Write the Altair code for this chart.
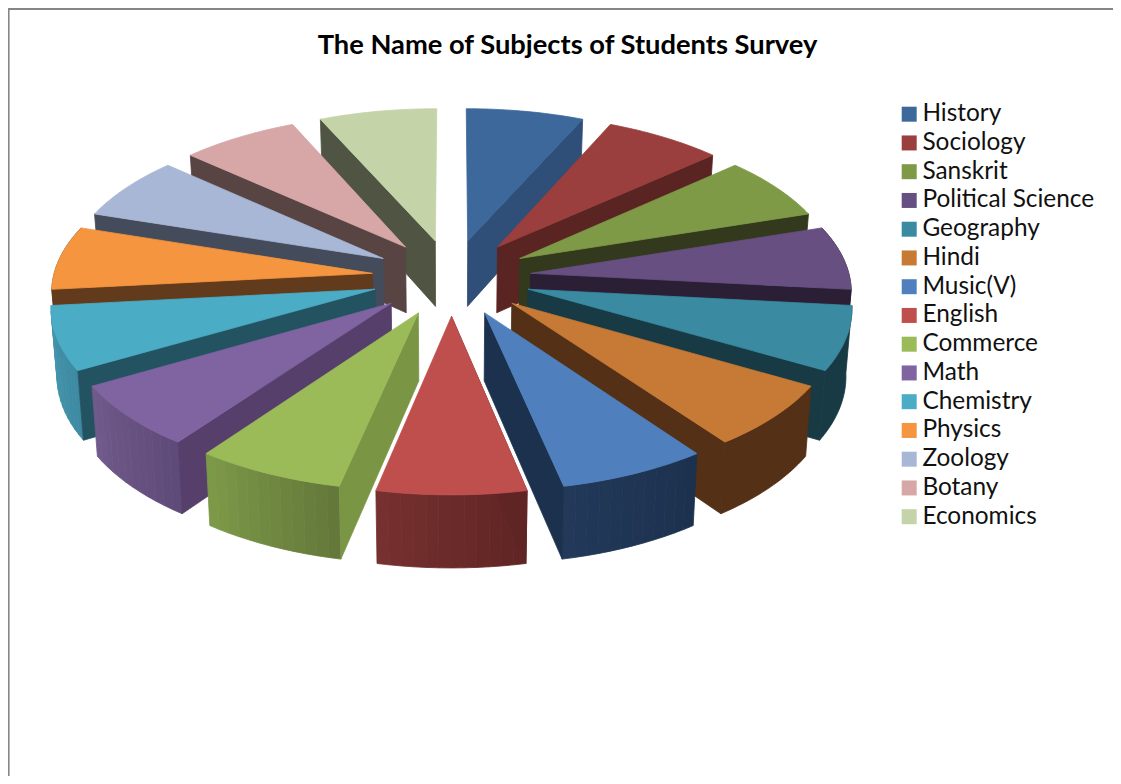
import math
import pandas as pd
import altair as alt

chart_title = ["The Name of Subjects of Students Survey"]
subjects = ["History", "Sociology", "Sanskrit", "Political Science", "Geography", "Hindi", "Music(V)",
            "English", "Commerce", "Math", "Chemistry", "Physics", "Zoology", "Botany", "Economics"]
values = [1, 1, 1, 1, 1, 1, 1, 1, 1, 1, 1, 1, 1, 1, 1]
top_colors = ["#3c689b", "#9a3f3d", "#7e9a47", "#674f82", "#3a8aa2", "#c77a35", "#4f80bd", "#bf4f4c",
              "#9bbb59", "#8063a1", "#4bacc6", "#f59540", "#a8b7d6", "#d6a7a6", "#c4d3a8"]
wall_colors = ["#2f4f78", "#5a2423", "#33391d", "#2a1f35", "#173a44", "#533016", "#1c314d", "#5f2524",
               "#7a9645", "#573f6c", "#235261", "#623a1c", "#444b5a", "#574443", "#4f5542"]
rim_start = ["#2f4f78", "#5a2423", "#33391d", "#2a1f35", "#173a44", "#533016", "#1c314d", "#5f2524",
             "#63773a", "#5e4a78", "#3d8aa1", "#623a1c", "#444b5a", "#574443", "#4f5542"]
rim_end = ["#2f4f78", "#5a2423", "#33391d", "#2a1f35", "#173a44", "#533016", "#22395a", "#76302f",
           "#7d9a48", "#715a8c", "#4496ae", "#623a1c", "#444b5a", "#574443", "#4f5542"]

W, H = 1105, 768
CX, CY, S, A, K, EXPL, SHRINK = 451.5, 277.3, 319.0, 152.3, 0.1, 0.25, 0.985


def project(theta, r, mid):
    u = EXPL * math.sin(mid) + r * math.sin(theta)
    v = -(EXPL * math.cos(mid) + r * math.cos(theta))
    s = 1 / (1 - K * v)
    x = CX + S * u * s
    y = CY + A * v * s
    return (x, y), (CX + (x - CX) * SHRINK, y + 66.7 + 5.1 * v)


def mix(c1, c2, t):
    a = [int(c1[i:i + 2], 16) for i in (1, 3, 5)]
    b = [int(c2[i:i + 2], 16) for i in (1, 3, 5)]
    return "#" + "".join(f"{round(p + (q - p) * t):02x}" for p, q in zip(a, b))


rows = []
pid = [0]


def add_poly(points, color):
    pid[0] += 1
    for i, (x, y) in enumerate(points + points[:1]):
        rows.append({"pid": f"p{pid[0]:04d}", "seq": i, "x": x, "y": y, "c": color})


total = sum(values)
spans, acc = [], 0.0
for val in values:
    spans.append((acc, acc + val / total * 2 * math.pi))
    acc += val / total * 2 * math.pi

order = sorted(range(len(values)), key=lambda i: round(-math.cos((spans[i][0] + spans[i][1]) / 2), 6))

for i in order:
    t0, t1 = spans[i]
    mid = (t0 + t1) / 2
    tip_t, tip_b = project(t0, 0, mid)
    # outer wall, only on the slices whose rim faces the viewer
    if math.cos(mid) < 0.45:
        if rim_start[i] == rim_end[i]:
            arc = [t0 + (t1 - t0) * b / 24 for b in range(25)]
            upper = [project(a, 1, mid)[0] for a in arc]
            lower = [project(a, 1, mid)[1] for a in arc]
            add_poly(upper + lower[::-1], rim_start[i])
        else:
            n = 12
            for b in range(n):
                a0 = t0 + (t1 - t0) * b / n
                a1 = t0 + (t1 - t0) * (b + 1) / n
                p0t, p0b = project(a0, 1, mid)
                p1t, p1b = project(a1, 1, mid)
                add_poly([p0t, p1t, p1b, p0b], mix(rim_start[i], rim_end[i], (b + 0.5) / n))
    # radial wall facing the viewer
    edge = t1 if mid < math.pi else t0
    et, eb = project(edge, 1, mid)
    add_poly([tip_t, et, eb, tip_b], wall_colors[i])
    # top face
    rim = [project(t0 + (t1 - t0) * b / 24, 1, mid)[0] for b in range(25)]
    add_poly([tip_t] + rim, top_colors[i])

polys = pd.DataFrame(rows)

x_scale = alt.Scale(domain=[8, 8 + W], nice=False, zero=False)
y_scale = alt.Scale(domain=[8 + H, 8], nice=False, zero=False)

pie = alt.Chart(polys).mark_line(
    filled=True, strokeWidth=0.8, interpolate="linear", opacity=1, fillOpacity=1, strokeOpacity=1
).encode(
    x=alt.X("x:Q", scale=x_scale, axis=None),
    y=alt.Y("y:Q", scale=y_scale, axis=None),
    detail="pid:N",
    order="seq:Q",
    fill=alt.Fill("c:N", scale=None),
    stroke=alt.Stroke("c:N", scale=None),
)

legend_df = pd.DataFrame({"subject": subjects})
legend_layer = alt.Chart(legend_df).mark_square(size=0).encode(
    x=alt.value(-50),
    y=alt.value(-50),
    color=alt.Color(
        "subject:N",
        sort=None,
        scale=alt.Scale(domain=subjects, range=top_colors),
        legend=alt.Legend(
            orient="none", legendX=889, legendY=94, title=None, symbolType="square", symbolSize=225,
            symbolStrokeWidth=0, labelFont="Lato", labelFontSize=24.4, labelColor="#111111",
            labelOffset=1, rowPadding=3.75, labelLimit=300, symbolOpacity=1, values=subjects,
        ),
    ),
)

frame_left = alt.Chart(pd.DataFrame({"x": [8.6]})).mark_rule(color="#868686", strokeWidth=2).encode(
    x=alt.X("x:Q", scale=x_scale, axis=None))
frame_top = alt.Chart(pd.DataFrame({"y": [9]})).mark_rule(color="#868686", strokeWidth=2).encode(
    y=alt.Y("y:Q", scale=y_scale, axis=None))

title_layer = alt.Chart(pd.DataFrame({"t": chart_title})).mark_text(
    font="Lato", fontWeight="bold", fontSize=27.3, color="#000000", align="center", baseline="alphabetic"
).encode(x=alt.value(559.5), y=alt.value(46), text="t:N")

chart = (
    alt.layer(pie, frame_left, frame_top, title_layer, legend_layer)
    .properties(width=W, height=H, padding=0, autosize=alt.AutoSizeParams(type="none"))
    .configure_view(stroke=None)
)
chart.save("out.html", embed_options={"renderer": "svg", "actions": False})
